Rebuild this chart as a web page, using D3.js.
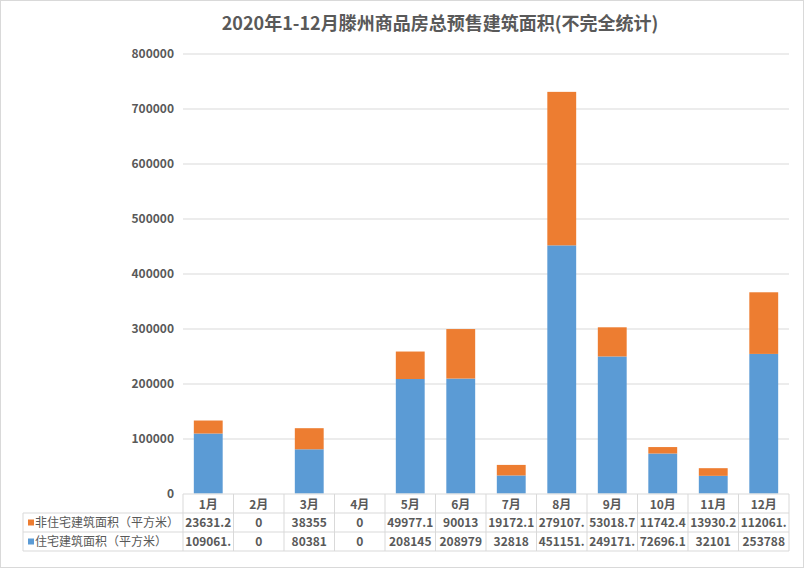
<!DOCTYPE html>
<html>
<head>
<meta charset="utf-8">
<script src="https://cdn.jsdelivr.net/npm/d3@7"></script>
<style>
  body { margin: 0; background: #fff; }
  svg { display: block; font-family: "Noto Sans CJK SC", "Noto Sans", sans-serif; }
</style>
</head>
<body>
<svg id="chart" width="804" height="568"></svg>
<script>
const months = ["1月", "2月", "3月", "4月", "5月", "6月", "7月", "8月", "9月", "10月", "11月", "12月"];
const residential = [109061.4, 0, 80381, 0, 208145, 208979, 32818, 451151.2, 249171.5, 72696.1, 32101, 253788];
const nonResidential = [23631.2, 0, 38355, 0, 49977.1, 90013, 19172.1, 279107.6, 53018.7, 11742.4, 13930.2, 112061.3];
const seriesNames = ["非住宅建筑面积（平方米）", "住宅建筑面积（平方米）"];
const yTicks = [0, 100000, 200000, 300000, 400000, 500000, 600000, 700000, 800000];

const colors = { res: "#5B9BD5", non: "#ED7D31" };
const textColor = "#595959";
const lineColor = "#D9D9D9";

const svg = d3.select("#chart");
const margin = { top: 53.5, left: 183, right: 15, bottom: 74.5 };
const W = 804, H = 568;
const plotW = W - margin.left - margin.right;
const plotH = H - margin.top - margin.bottom;

// chart border
svg.append("rect")
    .attr("x", 0.5).attr("y", 0.5)
    .attr("width", W - 1).attr("height", H - 1)
    .attr("fill", "#fff").attr("stroke", lineColor);

// title
svg.append("text")
    .attr("x", 440).attr("y", 30)
    .attr("text-anchor", "middle")
    .attr("font-size", "18px").attr("font-weight", "bold")
    .attr("fill", textColor)
    .text("2020年1-12月滕州商品房总预售建筑面积(不完全统计)");

const x = d3.scaleBand().domain(months).range([0, plotW]).paddingInner(0.4286).paddingOuter(0.2143);
const band = d3.scaleBand().domain(months).range([0, plotW]);
const y = d3.scaleLinear().domain([0, 800000]).range([plotH, 0]);

const g = svg.append("g").attr("transform", `translate(${margin.left},${margin.top})`);

// gridlines
g.append("g")
    .selectAll("line")
    .data(yTicks.slice(1))
    .join("line")
    .attr("x1", 0).attr("x2", plotW)
    .attr("y1", d => y(d) + 0.5).attr("y2", d => y(d) + 0.5)
    .attr("stroke", lineColor);

// y axis labels
const yAxis = g.append("g")
    .call(d3.axisLeft(y).tickValues(yTicks).tickSize(0).tickPadding(9).tickFormat(d3.format("d")));
yAxis.select(".domain").remove();
yAxis.selectAll("text")
    .attr("font-family", "'Noto Sans CJK SC', sans-serif")
    .attr("font-size", "12px").attr("font-weight", "bold")
    .attr("fill", textColor);

// stacked bars
const rows = months.map((m, i) => ({ month: m, res: residential[i], non: nonResidential[i] }));
const stack = d3.stack().keys(["res", "non"])(rows);

g.append("g")
    .selectAll("g")
    .data(stack)
    .join("g")
    .attr("fill", d => colors[d.key])
    .selectAll("rect")
    .data(d => d)
    .join("rect")
    .attr("x", d => x(d.data.month))
    .attr("width", x.bandwidth())
    .attr("y", d => y(d[1]))
    .attr("height", d => y(d[0]) - y(d[1]));

// data table
const tableTop = plotH + 0.5;
const rowH = 19;
const legendLeft = 23 - margin.left;
const t = g.append("g").attr("class", "table");

// horizontal lines
[0, 1, 2, 3].forEach(r => {
  t.append("line")
      .attr("x1", r === 0 ? 0 : legendLeft).attr("x2", plotW)
      .attr("y1", tableTop + r * rowH).attr("y2", tableTop + r * rowH)
      .attr("stroke", lineColor);
});
// vertical lines
months.concat(["end"]).forEach((m, i) => {
  const xx = i * band.bandwidth();
  t.append("line")
      .attr("x1", xx).attr("x2", xx)
      .attr("y1", tableTop).attr("y2", tableTop + 3 * rowH)
      .attr("stroke", lineColor);
});
t.append("line")
    .attr("x1", legendLeft).attr("x2", legendLeft)
    .attr("y1", tableTop + rowH).attr("y2", tableTop + 3 * rowH)
    .attr("stroke", lineColor);

const cellText = sel => sel
    .attr("text-anchor", "middle")
    .attr("font-size", "12px").attr("font-weight", "bold")
    .attr("fill", textColor);

// header
t.append("g").selectAll("text")
    .data(months)
    .join("text")
    .attr("x", d => band(d) + band.bandwidth() / 2)
    .attr("y", tableTop + rowH / 2 + 5)
    .call(cellText)
    .text(d => d);

const fmt = v => String(v).slice(0, 7);
[nonResidential, residential].forEach((vals, r) => {
  t.append("g").selectAll("text")
      .data(vals)
      .join("text")
      .attr("x", (d, i) => band(months[i]) + band.bandwidth() / 2)
      .attr("y", tableTop + (r + 1) * rowH + rowH / 2 + 4.5)
      .call(cellText)
      .attr("textLength", d => fmt(d).length >= 7 ? 46 : null)
      .attr("lengthAdjust", "spacingAndGlyphs")
      .text(d => fmt(d));
});

// legend cells
[colors.non, colors.res].forEach((c, r) => {
  const cy = tableTop + (r + 1) * rowH + rowH / 2;
  t.append("rect")
      .attr("x", legendLeft + 5).attr("y", cy - 3)
      .attr("width", 6).attr("height", 6)
      .attr("fill", c);
  t.append("text")
      .attr("x", legendLeft + 12).attr("y", cy + 4.5)
      .attr("font-size", "12px")
      .attr("fill", textColor)
      .text(seriesNames[r]);
});
</script>
</body>
</html>
